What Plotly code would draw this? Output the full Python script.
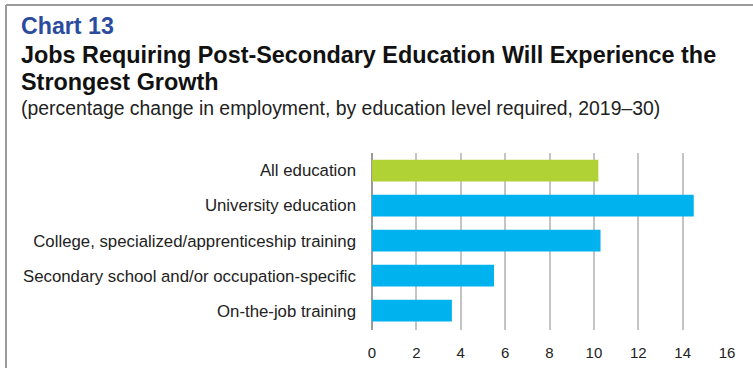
import plotly.graph_objects as go

# Projected employment growth by education level, 2019-30 (%)
categories = [
    "All education",
    "University education",
    "College, specialized/apprenticeship training",
    "Secondary school and/or occupation-specific",
    "On-the-job training",
]
values = [10.2, 14.5, 10.3, 5.5, 3.6]
bar_colors = ["#B1D235", "#00B2EE", "#00B2EE", "#00B2EE", "#00B2EE"]
x_ticks = [0, 2, 4, 6, 8, 10, 12, 14, 16]

W, H = 753, 368
L, R, T, B = 372, 26, 153, 38
PW, PH = W - L - R, H - T - B


def px(x):
    return (x - L) / PW


def py(y):
    return 1 - (y - T) / PH


FONT = "Liberation Sans, Arial, sans-serif"

fig = go.Figure(
    go.Bar(
        x=values,
        y=categories,
        orientation="h",
        marker=dict(color=bar_colors, line=dict(width=0)),
        width=0.62,
        hoverinfo="x+y",
    )
)

fig.update_layout(
    width=W,
    height=H,
    margin=dict(l=L, r=R, t=T, b=B, pad=0, autoexpand=False),
    paper_bgcolor="white",
    plot_bgcolor="white",
    showlegend=False,
    font=dict(family=FONT, size=16, color="#222222"),
    xaxis=dict(
        range=[0, 16],
        tickvals=x_ticks,
        automargin=False,
        showgrid=True,
        gridcolor="#c4c4c4",
        gridwidth=1.5,
        zeroline=True,
        zerolinecolor="#9a9a9a",
        zerolinewidth=2,
        showline=False,
        ticks="outside",
        ticklen=9,
        tickcolor="rgba(0,0,0,0)",
        tickfont=dict(size=15, color="#222222"),
        fixedrange=True,
    ),
    yaxis=dict(
        categoryorder="array",
        categoryarray=categories,
        range=[4.55, -0.5],
        automargin=False,
        showgrid=False,
        zeroline=False,
        showline=False,
        ticks="",
        ticklabelstandoff=15,
        tickfont=dict(size=16.8, color="#222222"),
        fixedrange=True,
    ),
    shapes=[
        # frame: top rule and left rule
        dict(type="line", xref="paper", yref="paper",
             x0=px(6), x1=px(W + 5), y0=py(5), y1=py(5),
             line=dict(color="#9a9a9a", width=2)),
        dict(type="line", xref="paper", yref="paper",
             x0=px(6), x1=px(6), y0=py(5), y1=py(H + 5),
             line=dict(color="#9a9a9a", width=2)),
    ],
    annotations=[
        dict(text="<b>Chart 13</b>", xref="paper", yref="paper",
             x=px(19), y=py(10.5), xanchor="left", yanchor="top",
             showarrow=False, font=dict(size=23.2, color="#2B4C9E", family=FONT)),
        dict(text="<b>Jobs Requiring Post-Secondary Education Will Experience the</b>",
             xref="paper", yref="paper",
             x=px(19), y=py(40), xanchor="left", yanchor="top",
             showarrow=False, font=dict(size=23.4, color="#111111", family=FONT)),
        dict(text="<b>Strongest Growth</b>", xref="paper", yref="paper",
             x=px(19), y=py(66.5), xanchor="left", yanchor="top",
             showarrow=False, font=dict(size=23.4, color="#111111", family=FONT)),
        dict(text="(percentage change in employment, by education level required, 2019\u201330)",
             xref="paper", yref="paper",
             x=px(19), y=py(95), xanchor="left", yanchor="top",
             showarrow=False, font=dict(size=19.4, color="#222222", family=FONT)),
    ],
)

fig.write_html("out.html")
